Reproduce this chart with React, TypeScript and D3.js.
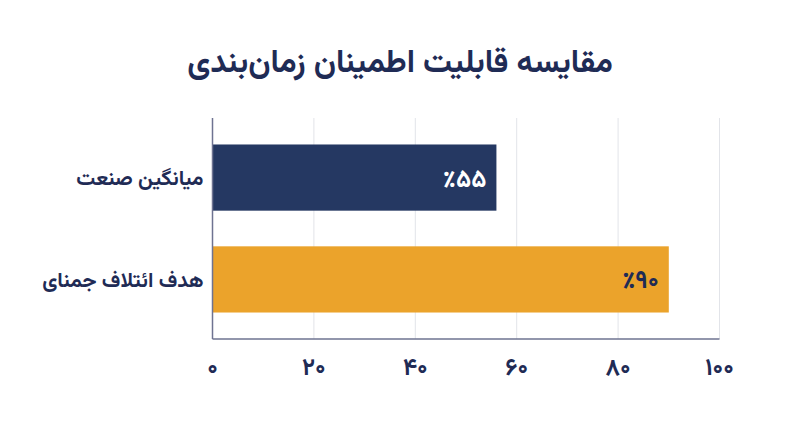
import React from "react";
import * as d3 from "d3";

const title = "مقایسه قابلیت اطمینان زمان‌بندی";
const categories = ["میانگین صنعت", "هدف ائتلاف جمنای"];
const values = [56, 90];
const valueLabels = ["٪۵۵", "٪۹۰"];
const barColors = ["#253862", "#eba32b"];
const labelColors = ["#ffffff", "#1f2b55"];
const tickValues = [0, 20, 40, 60, 80, 100];
const tickLabels = ["۰", "۲۰", "۴۰", "۶۰", "۸۰", "۱۰۰"];

const font = "Vazirmatn, 'DejaVu Sans', sans-serif";
const navy = "#1f2b55";

const App = () => {
  const width = 800;
  const height = 447;
  const plot = { left: 212.5, right: 719.5, top: 118, bottom: 339 };

  const x = d3.scaleLinear().domain([0, 100]).range([plot.left, plot.right]);
  const y = d3
    .scaleBand()
    .domain(categories)
    .range([plot.top, plot.bottom])
    .paddingInner(0.35)
    .paddingOuter(0.26);

  return (
    <svg
      width={width}
      height={height}
      style={{ position: "absolute", left: 0, top: 0, background: "#fff" }}
      fontFamily={font}
    >
      <text x={400} y={72} textAnchor="middle" fontSize={32} fontWeight="bold" fill={navy}>
        {title}
      </text>

      {/* grid */}
      {tickValues.slice(1).map((t) => (
        <line key={t} x1={x(t)} x2={x(t)} y1={plot.top} y2={plot.bottom} stroke="#e2e4e9" strokeWidth={1} />
      ))}

      {/* bars */}
      {categories.map((c, i) => (
        <g key={c}>
          <rect
            x={x(0)}
            y={y(c)}
            width={x(values[i]) - x(0)}
            height={y.bandwidth()}
            fill={barColors[i]}
          />
          <text
            x={x(values[i]) - 10}
            y={(y(c) || 0) + y.bandwidth() / 2}
            dy="0.36em"
            textAnchor="end"
            fontSize={25}
            fontWeight="bold"
            fill={labelColors[i]}
          >
            {valueLabels[i]}
          </text>
          <text
            x={plot.left - 9}
            y={(y(c) || 0) + y.bandwidth() / 2}
            dy="0.36em"
            textAnchor="end"
            fontSize={21}
            fontWeight="bold"
            fill={navy}
          >
            {c}
          </text>
        </g>
      ))}

      {/* axes */}
      <line x1={plot.left} x2={plot.left} y1={plot.top} y2={plot.bottom} stroke="#6e7391" strokeWidth={1.5} />
      <line x1={plot.left} x2={plot.right} y1={plot.bottom} y2={plot.bottom} stroke="#6e7391" strokeWidth={1.5} />

      {tickValues.map((t, i) => (
        <text
          key={t}
          x={x(t)}
          y={366}
          dy="0.36em"
          textAnchor="middle"
          fontSize={24}
          fontWeight="bold"
          fill={navy}
        >
          {tickLabels[i]}
        </text>
      ))}
    </svg>
  );
};

export default App;
